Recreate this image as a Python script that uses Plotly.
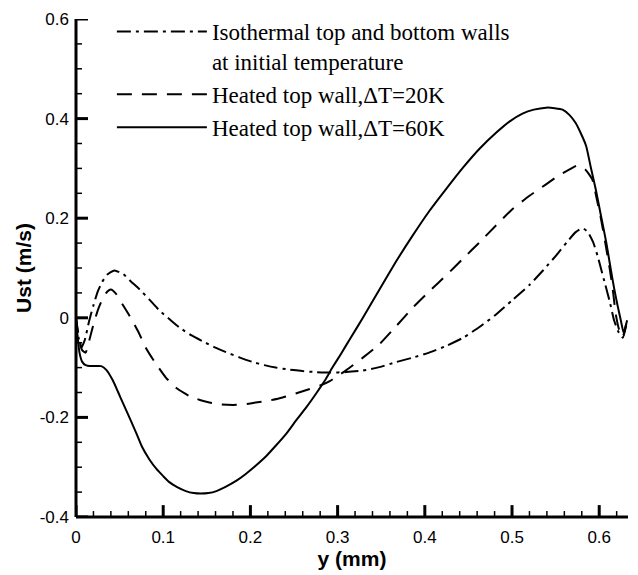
import plotly.graph_objects as go

# Isothermal top and bottom walls at initial temperature
iso_x = [0, 0.003, 0.006, 0.01, 0.015, 0.02, 0.025, 0.03, 0.036, 0.044, 0.054, 0.063, 0.073, 0.085,
         0.096, 0.108, 0.119, 0.132, 0.145, 0.16, 0.172, 0.188, 0.203, 0.216, 0.229, 0.245, 0.26,
         0.275, 0.291, 0.31, 0.329, 0.348, 0.367, 0.386, 0.405, 0.425, 0.444, 0.463, 0.482, 0.5,
         0.52, 0.536, 0.551, 0.563, 0.573, 0.581, 0.587, 0.593, 0.598, 0.602, 0.607, 0.612, 0.617,
         0.622, 0.627, 0.631]
iso_y = [0, -0.04, -0.06, -0.045, -0.007, 0.025, 0.053, 0.072, 0.087, 0.095, 0.088, 0.073, 0.057,
         0.035, 0.014, -0.004, -0.02, -0.035, -0.047, -0.06, -0.069, -0.08, -0.089, -0.095, -0.1,
         -0.104, -0.107, -0.109, -0.11, -0.109, -0.106, -0.099, -0.089, -0.08, -0.07, -0.056, -0.04,
         -0.018, 0.007, 0.035, 0.066, 0.096, 0.126, 0.152, 0.172, 0.18, 0.172, 0.152, 0.125, 0.099,
         0.066, 0.033, -0.005, -0.028, -0.04, -0.015]

# Heated top wall, dT = 20 K
h20_x = [0, 0.003, 0.007, 0.011, 0.016, 0.021, 0.026, 0.031, 0.036, 0.04, 0.046, 0.054, 0.06, 0.065,
         0.072, 0.08, 0.09, 0.103, 0.116, 0.13, 0.142, 0.153, 0.167, 0.18, 0.193, 0.206, 0.222,
         0.237, 0.252, 0.268, 0.28, 0.291, 0.31, 0.329, 0.348, 0.367, 0.386, 0.405, 0.425, 0.444,
         0.463, 0.482, 0.501, 0.52, 0.539, 0.552, 0.566, 0.575, 0.584, 0.592, 0.597, 0.602, 0.607,
         0.612, 0.616, 0.619, 0.623, 0.627, 0.631]
h20_y = [0, -0.035, -0.065, -0.07, -0.04, -0.007, 0.02, 0.04, 0.053, 0.057, 0.048, 0.025, 0.008,
         -0.007, -0.03, -0.06, -0.088, -0.12, -0.142, -0.157, -0.165, -0.17, -0.174, -0.175, -0.174,
         -0.17, -0.166, -0.16, -0.152, -0.143, -0.136, -0.127, -0.105, -0.08, -0.053, -0.017, 0.02,
         0.053, 0.086, 0.119, 0.152, 0.186, 0.219, 0.245, 0.268, 0.284, 0.298, 0.306, 0.298, 0.278,
         0.24, 0.199, 0.15, 0.099, 0.05, 0.007, -0.025, -0.038, -0.012]

# Heated top wall, dT = 60 K
h60_x = [0, 0.002, 0.004, 0.007, 0.011, 0.018, 0.029, 0.035, 0.042, 0.048, 0.054, 0.063, 0.07, 0.076,
         0.084, 0.092, 0.1, 0.107, 0.116, 0.126, 0.135, 0.143, 0.152, 0.161, 0.172, 0.184, 0.195,
         0.206, 0.218, 0.229, 0.241, 0.252, 0.264, 0.275, 0.285, 0.294, 0.304, 0.314, 0.329, 0.348,
         0.367, 0.386, 0.405, 0.425, 0.444, 0.463, 0.482, 0.497, 0.512, 0.525, 0.539, 0.549, 0.558,
         0.566, 0.573, 0.579, 0.585, 0.59, 0.596, 0.602, 0.608, 0.613, 0.617, 0.621, 0.625, 0.628,
         0.632]
h60_y = [-0.005, -0.04, -0.07, -0.088, -0.095, -0.097, -0.097, -0.105, -0.125, -0.148, -0.172, -0.207,
         -0.235, -0.26, -0.284, -0.303, -0.318, -0.33, -0.34, -0.348, -0.352, -0.353, -0.352, -0.348,
         -0.339, -0.327, -0.313, -0.297, -0.278, -0.257, -0.233, -0.207, -0.18, -0.153, -0.127, -0.1,
         -0.072, -0.043, 0, 0.057, 0.113, 0.165, 0.214, 0.26, 0.302, 0.34, 0.372, 0.394, 0.41,
         0.418, 0.422, 0.421, 0.418, 0.407, 0.391, 0.37, 0.345, 0.305, 0.258, 0.205, 0.152, 0.1,
         0.06, 0.025, -0.007, -0.03, -0.005]

names = ["Isothermal top and bottom walls<br>at initial temperature",
         "Heated top wall,\u0394T=20K",
         "Heated top wall,\u0394T=60K"]

x_tickvals = [0, 0.1, 0.2, 0.3, 0.4, 0.5, 0.6]
x_ticktext = ["0", "0.1", "0.2", "0.3", "0.4", "0.5", "0.6"]
x_minorvals = [round(0.02 * i, 2) for i in range(32)]
y_tickvals = [-0.4, -0.2, 0, 0.2, 0.4, 0.6]
y_ticktext = ["-0.4", "-0.2", "0", "0.2", "0.4", "0.6"]
y_minorvals = [round(-0.4 + 0.05 * i, 2) for i in range(21)]
x_range = [0, 0.633]
y_range = [-0.4, 0.6]

fig = go.Figure()
series = [(iso_x, iso_y, "14px,5px,3px,5px"), (h20_x, h20_y, "15px,10px"), (h60_x, h60_y, "solid")]
for (xs, ys, dash), nm in zip(series, names):
    fig.add_trace(go.Scatter(x=xs, y=ys, mode="lines", name=nm,
                             line=dict(color="black", width=2, dash=dash, shape="spline", smoothing=0.5)))

W, H = 638, 575
ML, MR, MT, MB = 76, 10, 14, 58
plot_w, plot_h = W - ML - MR, H - MT - MB
major_len, minor_len = 12, 6

# axis frame lines (left and bottom) and inside ticks, positioned through the axes' own scales
fig.add_shape(type="line", xref="paper", yref="paper", x0=0, x1=1, y0=0, y1=0,
              line=dict(color="black", width=3), layer="above")
fig.add_shape(type="line", xref="paper", yref="paper", x0=0, x1=0, y0=0, y1=1,
              line=dict(color="black", width=3), layer="above")
for v in x_minorvals:
    is_major = any(abs(v - t) < 1e-9 for t in x_tickvals)
    L = (major_len if is_major else minor_len) / plot_h
    fig.add_shape(type="line", xref="x", yref="paper", x0=v, x1=v, y0=0, y1=L,
                  line=dict(color="black", width=3 if is_major else 1.5), layer="above")
for v in y_minorvals:
    is_major = any(abs(v - t) < 1e-9 for t in y_tickvals)
    L = (major_len if is_major else minor_len) / plot_w
    fig.add_shape(type="line", xref="paper", yref="y", x0=0, x1=L, y0=v, y1=v,
                  line=dict(color="black", width=3 if is_major else 1.5), layer="above")

tickfont = dict(family="Liberation Sans, Arial", size=17, color="black")
titlefont = dict(family="Liberation Sans, Arial", size=21, color="black", weight="bold")

fig.update_layout(
    width=W, height=H, autosize=False,
    margin=dict(l=ML, r=MR, t=MT, b=MB),
    paper_bgcolor="white", plot_bgcolor="white",
    showlegend=True,
    legend=dict(x=0.065, y=1.018, xanchor="left", yanchor="top", valign="top",
                font=dict(family="Liberation Serif, Times New Roman", size=23, color="black"),
                bgcolor="rgba(0,0,0,0)", itemwidth=90, tracegroupgap=0),
)
fig.update_xaxes(range=x_range, tickmode="array", tickvals=x_tickvals, ticktext=x_ticktext,
                 automargin=False, showline=False, ticks="", showgrid=False, zeroline=False,
                 tickfont=tickfont, ticklabelstandoff=8,
                 title=dict(text="y (mm)", standoff=3, font=titlefont))
fig.update_yaxes(range=y_range, tickmode="array", tickvals=y_tickvals, ticktext=y_ticktext,
                 automargin=False, showline=False, ticks="", showgrid=False, zeroline=False,
                 tickfont=tickfont, ticklabelstandoff=6,
                 title=dict(text="Ust (m/s)", standoff=2, font=titlefont))

fig.write_html("out.html")
